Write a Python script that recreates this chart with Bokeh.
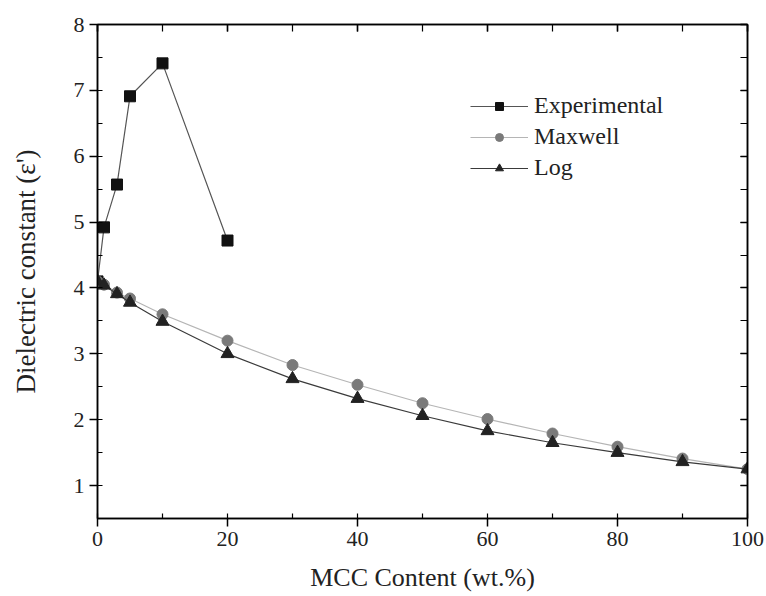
from bokeh.plotting import figure
from bokeh.models import (LinearAxis, SingleIntervalTicker, Range1d, Legend, LegendItem,
                          CustomJSTickFormatter)
from bokeh.embed import file_html
from bokeh.resources import INLINE

# ---- data ----
exp_x = [0, 1, 3, 5, 10, 20]
exp_y = [4.1, 4.92, 5.57, 6.91, 7.41, 4.72]

model_x = [0, 1, 3, 5, 10, 20, 30, 40, 50, 60, 70, 80, 90, 100]
maxwell_y = [4.1, 4.05, 3.93, 3.84, 3.60, 3.20, 2.83, 2.53, 2.25, 2.01, 1.79, 1.59, 1.41, 1.25]
log_y = [4.1, 4.04, 3.91, 3.78, 3.49, 3.00, 2.62, 2.32, 2.06, 1.83, 1.65, 1.50, 1.36, 1.25]

series_names = ["Experimental", "Maxwell", "Log"]
x_label = "MCC Content (wt.%)"
y_label = "Dielectric constant (\u03b5')"

FONT = "Liberation Serif"

p = figure(width=766, height=596, output_backend="svg", toolbar_location=None,
           x_range=Range1d(0, 100), y_range=Range1d(0.5, 8),
           x_axis_location=None, y_axis_location=None,
           min_border_left=97, min_border_right=19, min_border_top=24, min_border_bottom=78)
p.xgrid.visible = False
p.ygrid.visible = False
p.outline_line_color = "black"
p.outline_line_width = 1.5
p.background_fill_color = "white"
p.border_fill_color = "white"

def mk_axis(ticker, labels=True, out_major=8, in_major=0, in_minor=5, label=None):
    ax = LinearAxis(ticker=ticker)
    ax.axis_line_width = 1.5
    ax.axis_line_color = "black"
    ax.major_tick_line_width = 1.5
    ax.minor_tick_line_width = 1.2
    ax.major_tick_out = out_major
    ax.major_tick_in = in_major
    ax.minor_tick_out = 0
    ax.minor_tick_in = in_minor
    ax.major_label_text_font = FONT
    ax.major_label_text_color = "#222222"
    ax.major_label_text_font_size = "22px"
    if labels:
        ax.major_label_standoff = 5
    else:
        ax.formatter = CustomJSTickFormatter(code="return ''")
        ax.major_label_standoff = 0
    if label:
        ax.axis_label = label
        ax.axis_label_text_font = FONT
        ax.axis_label_text_font_style = "normal"
        ax.axis_label_text_color = "#222222"
    return ax

xt = SingleIntervalTicker(interval=20, num_minor_ticks=2)
yt = SingleIntervalTicker(interval=1, num_minor_ticks=2)

bottom = mk_axis(xt, labels=True, label=x_label)
bottom.axis_label_text_font_size = "26px"
bottom.axis_label_standoff = 14
left = mk_axis(yt, labels=True, label=y_label)
left.axis_label_text_font_size = "27px"
left.axis_label_standoff = 30
top = mk_axis(SingleIntervalTicker(interval=20, num_minor_ticks=2), labels=False,
              out_major=0, in_major=7, in_minor=7)
right = mk_axis(SingleIntervalTicker(interval=1, num_minor_ticks=2), labels=False,
                out_major=0, in_major=7, in_minor=7)

p.add_layout(bottom, "below")
p.add_layout(left, "left")
p.add_layout(top, "above")
p.add_layout(right, "right")

# ---- glyphs ----
l_exp = p.line(exp_x, exp_y, line_color="#555555", line_width=1.2)
s_exp = p.scatter(exp_x, exp_y, marker="square", size=11, fill_color="#111111",
                  line_color="#111111")

l_max = p.line(model_x, maxwell_y, line_color="#b5b5b5", line_width=1.2)
s_max = p.scatter(model_x, maxwell_y, marker="circle", size=11, fill_color="#7a7a7a",
                  line_color="#7a7a7a")

l_log = p.line(model_x, log_y, line_color="#3a3a3a", line_width=1.2)
s_log = p.scatter(model_x, log_y, marker="triangle", size=13, fill_color="#222222",
                  line_color="#222222")

legend = Legend(items=[
    LegendItem(label=series_names[0], renderers=[l_exp, s_exp]),
    LegendItem(label=series_names[1], renderers=[l_max, s_max]),
    LegendItem(label=series_names[2], renderers=[l_log, s_log]),
], location=(373, 337))
legend.border_line_color = None
legend.background_fill_alpha = 0
legend.padding = 0
legend.margin = 0
legend.glyph_width = 58
legend.glyph_height = 20
legend.label_height = 20
legend.spacing = 4
legend.label_standoff = 6
legend.label_text_font = FONT
legend.label_text_font_size = "24px"
legend.label_text_color = "#222222"
p.add_layout(legend)

open("out.html", "w").write(file_html(p, INLINE))
